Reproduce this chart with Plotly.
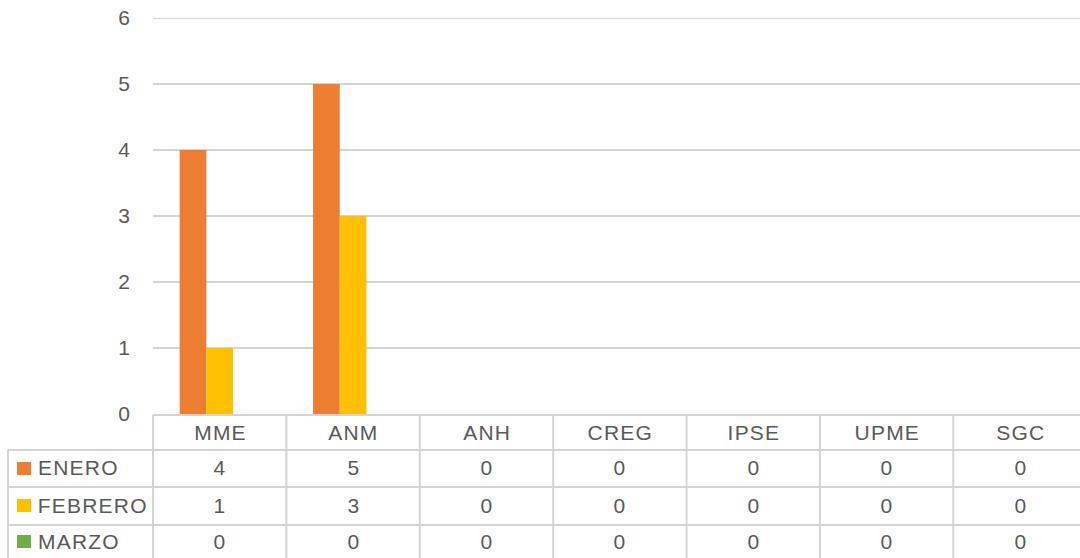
import plotly.graph_objects as go

categories = ["MME", "ANM", "ANH", "CREG", "IPSE", "UPME", "SGC"]
enero = [4, 5, 0, 0, 0, 0, 0]
febrero = [1, 3, 0, 0, 0, 0, 0]
marzo = [0, 0, 0, 0, 0, 0, 0]
series_names = ["ENERO", "FEBRERO", "MARZO"]
series_values = [enero, febrero, marzo]
colors = ["#ED7D31", "#FFC000", "#70AD47"]
y_ticks = [0, 1, 2, 3, 4, 5, 6]

W, H = 1080, 558
L, T, B = 153, 18, 144
plot_h = H - T - B  # 396
x_range = [-0.5, 6.45]
plot_w = W - L
txt_color = "#595959"
line_color = "#D4D4D4"
font_family = "Liberation Sans, Arial, sans-serif"
LS = 1.2  # letter spacing px

fig = go.Figure()
for name, vals, col in zip(series_names, series_values, colors):
    fig.add_trace(go.Bar(x=categories, y=vals, name=name, marker_color=col,
                         marker_line_width=0, showlegend=False, hoverinfo="skip"))


def py(p):
    return (H - B - p) / plot_h


def px(p):
    return (p - L) / plot_w


shapes = []
annotations = []
row_lines = [450, 487, 525]
lw = 2
# top gridline (value 6)
shapes.append(dict(type="line", xref="paper", yref="y", x0=0, x1=1,
                   y0=max(y_ticks), y1=max(y_ticks),
                   line=dict(color=line_color, width=lw)))
shapes.append(dict(type="line", xref="paper", yref="paper", x0=0, x1=1,
                   y0=py(415), y1=py(415), line=dict(color=line_color, width=lw)))
for r in row_lines:
    shapes.append(dict(type="line", xref="paper", yref="paper", x0=px(8), x1=1,
                       y0=py(r), y1=py(r), line=dict(color=line_color, width=lw)))
shapes.append(dict(type="line", xref="paper", yref="paper", x0=0, x1=0,
                   y0=py(415), y1=py(H + 5), line=dict(color=line_color, width=lw)))
shapes.append(dict(type="line", xref="paper", yref="paper", x0=px(8), x1=px(8),
                   y0=py(450), y1=py(H + 5), line=dict(color=line_color, width=lw)))
for i in range(len(categories) - 1):
    xp = (i + 0.5 - x_range[0]) / (x_range[1] - x_range[0])
    shapes.append(dict(type="line", xref="paper", yref="paper", x0=xp, x1=xp,
                       y0=py(415), y1=py(H + 5), line=dict(color=line_color, width=lw)))

fnt = dict(size=21, color=txt_color, family=font_family)
for c in categories:
    annotations.append(dict(x=c, xref="x", y=py(432), yref="paper", text=c,
                            xanchor="center", yanchor="middle",
                            xshift=LS / 2,
                            showarrow=False, font=fnt))
row_centers = [468, 505, 541]
for rc, name, vals, col in zip(row_centers, series_names, series_values, colors):
    shapes.append(dict(type="rect", xref="paper", yref="paper",
                       x0=px(17), x1=px(31), y0=py(rc - 6), y1=py(rc + 7),
                       fillcolor=col, line=dict(width=0)))
    annotations.append(dict(x=px(36), xref="paper", y=py(rc), yref="paper",
                            text=name, xanchor="left", yanchor="middle",
                            xshift=len(name) * LS / 2,
                            showarrow=False, font=fnt))
    for c, v in zip(categories, vals):
        annotations.append(dict(x=c, xref="x", y=py(rc), yref="paper", text=str(v),
                                xanchor="center", yanchor="middle",
                                xshift=LS / 2,
                                showarrow=False, font=fnt))

fig.update_layout(
    width=W, height=H,
    margin=dict(l=L, r=0, t=T, b=B, pad=0),
    paper_bgcolor="white", plot_bgcolor="rgba(0,0,0,0)",
    barmode="group", bargap=0.4, bargroupgap=0,
    shapes=shapes, annotations=annotations,
    font=dict(family=font_family, color=txt_color, size=21),
    xaxis=dict(range=x_range, showticklabels=False, showgrid=False,
               zeroline=False, showline=False, ticks=""),
    yaxis=dict(range=[0, 6], tickvals=y_ticks, showgrid=True,
               gridcolor=line_color, gridwidth=lw, zeroline=False,
               showline=False, ticks="", ticklabelstandoff=22,
               tickfont=fnt),
)

post = """
document.body.style.margin='0';
document.querySelectorAll('.annotation-text').forEach(function(t){
  t.style.letterSpacing='%spx';
});
""" % LS
fig.write_html("out.html", config={"displayModeBar": False}, post_script=post)
